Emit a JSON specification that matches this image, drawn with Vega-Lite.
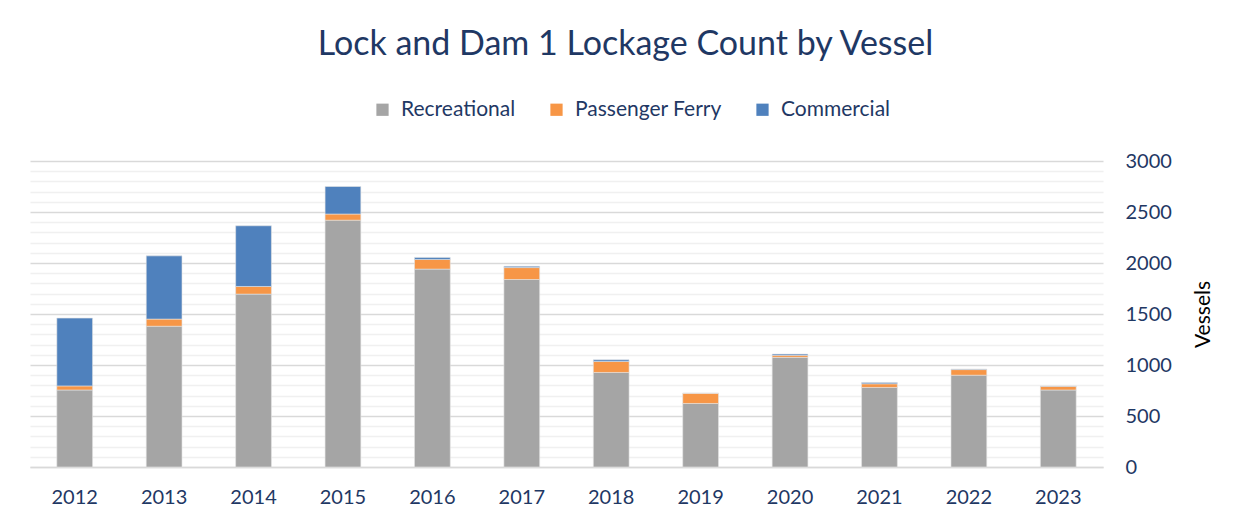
{
  "$schema": "https://vega.github.io/schema/vega-lite/v6.json",
  "autosize": "none",
  "width": 1073,
  "height": 306,
  "padding": {"left": 30, "top": 161, "right": 146, "bottom": 60},
  "background": "white",
  "title": {
    "text": "Lock and Dam 1 Lockage Count by Vessel",
    "font": "Lato",
    "fontSize": 34,
    "fontWeight": "normal",
    "color": "#1F3864",
    "anchor": "middle",
    "dx": 59,
    "offset": 37
  },
  "data": {
    "values": [
      {"year": "2012", "type": "Recreational", "count": 755},
      {"year": "2012", "type": "Passenger Ferry", "count": 40},
      {"year": "2012", "type": "Commercial", "count": 665},
      {"year": "2013", "type": "Recreational", "count": 1380},
      {"year": "2013", "type": "Passenger Ferry", "count": 70},
      {"year": "2013", "type": "Commercial", "count": 620},
      {"year": "2014", "type": "Recreational", "count": 1695},
      {"year": "2014", "type": "Passenger Ferry", "count": 75},
      {"year": "2014", "type": "Commercial", "count": 595},
      {"year": "2015", "type": "Recreational", "count": 2420},
      {"year": "2015", "type": "Passenger Ferry", "count": 60},
      {"year": "2015", "type": "Commercial", "count": 270},
      {"year": "2016", "type": "Recreational", "count": 1940},
      {"year": "2016", "type": "Passenger Ferry", "count": 95},
      {"year": "2016", "type": "Commercial", "count": 20},
      {"year": "2017", "type": "Recreational", "count": 1838},
      {"year": "2017", "type": "Passenger Ferry", "count": 117},
      {"year": "2017", "type": "Commercial", "count": 13},
      {"year": "2018", "type": "Recreational", "count": 927},
      {"year": "2018", "type": "Passenger Ferry", "count": 108},
      {"year": "2018", "type": "Commercial", "count": 16},
      {"year": "2019", "type": "Recreational", "count": 623},
      {"year": "2019", "type": "Passenger Ferry", "count": 100},
      {"year": "2019", "type": "Commercial", "count": 0},
      {"year": "2020", "type": "Recreational", "count": 1075},
      {"year": "2020", "type": "Passenger Ferry", "count": 20},
      {"year": "2020", "type": "Commercial", "count": 12},
      {"year": "2021", "type": "Recreational", "count": 780},
      {"year": "2021", "type": "Passenger Ferry", "count": 36},
      {"year": "2021", "type": "Commercial", "count": 13},
      {"year": "2022", "type": "Recreational", "count": 900},
      {"year": "2022", "type": "Passenger Ferry", "count": 55},
      {"year": "2022", "type": "Commercial", "count": 6},
      {"year": "2023", "type": "Recreational", "count": 755},
      {"year": "2023", "type": "Passenger Ferry", "count": 36},
      {"year": "2023", "type": "Commercial", "count": 3}
    ]
  },
  "mark": {"type": "bar", "stroke": "#e4e4e4", "strokeWidth": 0.6},
  "encoding": {
    "x": {
      "field": "year",
      "type": "ordinal",
      "scale": {"paddingInner": 0.6, "paddingOuter": 0.3},
      "axis": {
        "title": null,
        "labelAngle": 0,
        "labelFont": "Lato",
        "labelFontSize": 20,
        "labelColor": "#1F3864",
        "labelPadding": 20,
        "ticks": false,
        "domainColor": "#d9d9d9",
        "domainWidth": 1.5
      }
    },
    "y": {
      "field": "count",
      "type": "quantitative",
      "stack": "zero",
      "scale": {"domain": [0, 3000], "nice": false},
      "axis": {
        "orient": "right",
        "values": [0,100,200,300,400,500,600,700,800,900,1000,1100,1200,1300,1400,1500,1600,1700,1800,1900,2000,2100,2200,2300,2400,2500,2600,2700,2800,2900,3000],
        "labelExpr": "datum.value % 500 === 0 ? datum.label : ''",
        "format": "d",
        "title": "Vessels",
        "titleFont": "Lato",
        "titleFontSize": 21,
        "titleFontWeight": "normal",
        "titleColor": "#000000",
        "titleAngle": -90,
        "titlePadding": 42,
        "labelFont": "Lato",
        "labelFontSize": 20,
        "labelColor": "#1F3864",
        "labelPadding": 22,
        "ticks": false,
        "domain": false,
        "grid": true,
        "gridColor": {"condition": {"test": "datum.value % 500 === 0", "value": "#d9d9d9"}, "value": "#f0f0f0"},
        "gridWidth": 1.5
      }
    },
    "color": {
      "field": "type",
      "type": "nominal",
      "scale": {
        "domain": ["Recreational", "Passenger Ferry", "Commercial"],
        "range": ["#A5A5A5", "#F79646", "#4F81BD"]
      },
      "legend": {
        "orient": "none",
        "legendX": 342,
        "legendY": -62,
        "direction": "horizontal",
        "title": null,
        "symbolType": "square",
        "symbolSize": 150,
        "symbolStrokeWidth": 0,
        "labelFont": "Lato",
        "labelFontSize": 21,
        "labelColor": "#1F3864",
        "columnPadding": 30,
        "labelOffset": 8
      }
    },
    "order": {"field": "order", "type": "quantitative"}
  },
  "transform": [
    {"calculate": "datum.type === 'Recreational' ? 0 : datum.type === 'Passenger Ferry' ? 1 : 2", "as": "order"}
  ],
  "config": {"view": {"stroke": null}}
}
